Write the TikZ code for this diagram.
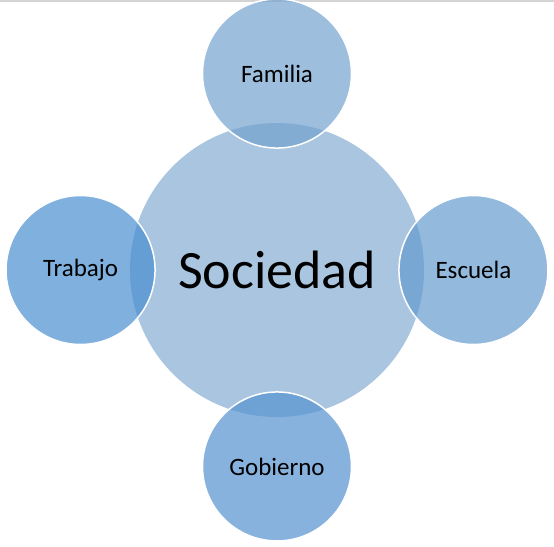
\documentclass[tikz,border=0pt]{standalone}
\usepackage{fontspec}
\setmainfont{Carlito}
\usetikzlibrary{positioning}
\definecolor{socBlue}{HTML}{A9C5E0}
\definecolor{famBlue}{HTML}{73A2CE}
\definecolor{escBlue}{HTML}{659BCE}
\definecolor{trbBlue}{HTML}{488ED0}
\definecolor{gobBlue}{HTML}{5592D0}
\definecolor{topGray}{HTML}{D4D4D4}
\tikzset{
  soc/.style={circle, fill=socBlue, minimum size=294pt, inner sep=0pt, font=\fontsize{54}{62}\selectfont},
  sat/.style={circle, draw=white, line width=1.5pt, fill opacity=0.7, text opacity=1, minimum size=149pt, inner sep=0pt, font=\fontsize{25}{30}\selectfont},
}
\begin{document}
\begin{tikzpicture}[x=1pt, y=-1pt, node distance=-26pt]
  \useasboundingbox (0,0) rectangle (554,546);
  \draw[topGray, line width=1.5pt] (0,1) -- (554,1);
  \node[soc] (soc) at (277,270) {Sociedad};
  \node[sat, fill=famBlue, above=of soc] (fam) {Familia};
  \node[sat, fill=trbBlue, left=of soc] (trb) {Trabajo};
  \node[sat, fill=escBlue, right=of soc] (esc) {Escuela};
  \node[sat, fill=gobBlue, below=of soc] (gob) {Gobierno};
\end{tikzpicture}
\end{document}
